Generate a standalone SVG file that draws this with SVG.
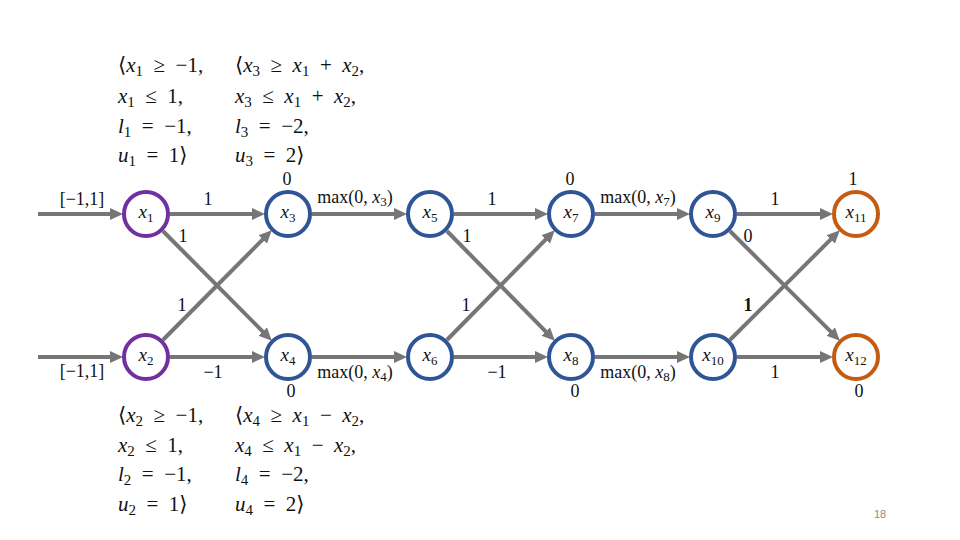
<svg xmlns="http://www.w3.org/2000/svg" width="960" height="540" viewBox="0 0 960 540">
<style>
.m{font-family:"Liberation Serif","DejaVu Serif",serif;font-size:21px;fill:#111;white-space:pre}
.i{font-style:italic}
.s{font-size:15px}
.lb{font-family:"Liberation Serif","DejaVu Serif",serif;font-size:18px;fill:#111;text-anchor:middle}
.s2{font-size:13px}
.nl{font-family:"Liberation Serif","DejaVu Serif",serif;font-size:19px;font-style:italic;fill:#111;text-anchor:middle}
.ns{font-size:13px;font-style:normal}
.node{fill:#fff;stroke-width:4}
.in{stroke:#7030A0}
.hid{stroke:#2F5597}
.out{stroke:#C55A11}
.e{stroke:#767676;stroke-width:4;fill:none;marker-end:url(#ah)}
.pg{font-family:"Liberation Sans",Arial,sans-serif;font-size:11px;fill:#8c8c8c;text-anchor:middle}
</style>
<defs>
<marker id="ah" markerUnits="userSpaceOnUse" markerWidth="14" markerHeight="14" refX="4" refY="7" orient="auto" viewBox="0 0 14 14">
<path d="M0,1 L13,7 L0,13 z" fill="#767676"/>
</marker>
</defs>
<rect width="960" height="540" fill="#fff"/>

<g id="connectors">
<line class="e" x1="38" y1="214" x2="114" y2="214"/>
<line class="e" x1="38" y1="357" x2="114" y2="357"/>
<line class="e" x1="170" y1="214" x2="256" y2="214"/>
<line class="e" x1="170" y1="357" x2="256" y2="357"/>
<line class="e" x1="162.9" y1="231" x2="265.5" y2="334.3"/>
<line class="e" x1="162.9" y1="340" x2="265.5" y2="236.7"/>
<line class="e" x1="312" y1="214" x2="398" y2="214"/>
<line class="e" x1="312" y1="357" x2="398" y2="357"/>
<line class="e" x1="454" y1="214" x2="539" y2="214"/>
<line class="e" x1="454" y1="357" x2="539" y2="357"/>
<line class="e" x1="446.9" y1="231" x2="548.5" y2="334.3"/>
<line class="e" x1="446.9" y1="340" x2="548.5" y2="236.7"/>
<line class="e" x1="595" y1="214" x2="681" y2="214"/>
<line class="e" x1="595" y1="357" x2="681" y2="357"/>
<line class="e" x1="737" y1="214" x2="824" y2="214"/>
<line class="e" x1="737" y1="357" x2="824" y2="357"/>
<line class="e" x1="729.9" y1="231" x2="833.5" y2="334.3"/>
<line class="e" x1="729.9" y1="340" x2="833.5" y2="236.7"/>
</g>

<g id="edge-labels">
<text class="lb" x="82" y="205">[−1,1]</text>
<text class="lb" x="82" y="377">[−1,1]</text>
<text class="lb" x="208" y="205">1</text>
<text class="lb" x="183" y="242">1</text>
<text class="lb" x="182" y="311">1</text>
<text class="lb" x="213" y="378">−1</text>
<text class="lb" x="287" y="185">0</text>
<text class="lb" x="291" y="397">0</text>
<text class="lb" x="355" y="203">max(0, <tspan class="i">x</tspan><tspan class="s2" dy="3">3</tspan><tspan dy="-3">)</tspan></text>
<text class="lb" x="355" y="378">max(0, <tspan class="i">x</tspan><tspan class="s2" dy="3">4</tspan><tspan dy="-3">)</tspan></text>
<text class="lb" x="492" y="205">1</text>
<text class="lb" x="467" y="242">1</text>
<text class="lb" x="466" y="311">1</text>
<text class="lb" x="497" y="378">−1</text>
<text class="lb" x="570" y="185">0</text>
<text class="lb" x="575" y="397">0</text>
<text class="lb" x="638" y="203">max(0, <tspan class="i">x</tspan><tspan class="s2" dy="3">7</tspan><tspan dy="-3">)</tspan></text>
<text class="lb" x="638" y="378">max(0, <tspan class="i">x</tspan><tspan class="s2" dy="3">8</tspan><tspan dy="-3">)</tspan></text>
<text class="lb" x="775" y="205">1</text>
<text class="lb" x="748" y="242">0</text>
<text class="lb" x="748" y="311" font-weight="bold">1</text>
<text class="lb" x="775" y="378">1</text>
<text class="lb" x="853" y="185">1</text>
<text class="lb" x="859" y="397">0</text>
</g>

<g id="node-x1"><circle class="node in" cx="146" cy="214" r="22"/><text class="nl" x="146" y="218">x<tspan class="ns" dy="4">1</tspan></text></g>
<g id="node-x2"><circle class="node in" cx="146" cy="357" r="22"/><text class="nl" x="146" y="361">x<tspan class="ns" dy="4">2</tspan></text></g>
<g id="node-x3"><circle class="node hid" cx="288" cy="214" r="22"/><text class="nl" x="288" y="218">x<tspan class="ns" dy="4">3</tspan></text></g>
<g id="node-x4"><circle class="node hid" cx="288" cy="357" r="22"/><text class="nl" x="288" y="361">x<tspan class="ns" dy="4">4</tspan></text></g>
<g id="node-x5"><circle class="node hid" cx="430" cy="214" r="22"/><text class="nl" x="430" y="218">x<tspan class="ns" dy="4">5</tspan></text></g>
<g id="node-x6"><circle class="node hid" cx="430" cy="357" r="22"/><text class="nl" x="430" y="361">x<tspan class="ns" dy="4">6</tspan></text></g>
<g id="node-x7"><circle class="node hid" cx="571" cy="214" r="22"/><text class="nl" x="571" y="218">x<tspan class="ns" dy="4">7</tspan></text></g>
<g id="node-x8"><circle class="node hid" cx="571" cy="357" r="22"/><text class="nl" x="571" y="361">x<tspan class="ns" dy="4">8</tspan></text></g>
<g id="node-x9"><circle class="node hid" cx="713" cy="214" r="22"/><text class="nl" x="713" y="218">x<tspan class="ns" dy="4">9</tspan></text></g>
<g id="node-x10"><circle class="node hid" cx="713" cy="357" r="22"/><text class="nl" x="713" y="361">x<tspan class="ns" dy="4">10</tspan></text></g>
<g id="node-x11"><circle class="node out" cx="856" cy="214" r="22"/><text class="nl" x="856" y="218">x<tspan class="ns" dy="4">11</tspan></text></g>
<g id="node-x12"><circle class="node out" cx="856" cy="357" r="22"/><text class="nl" x="856" y="361">x<tspan class="ns" dy="4">12</tspan></text></g>

<g id="constraints-top">
<text class="m" x="118" y="72">⟨<tspan class="i">x</tspan><tspan class="s" dy="4">1</tspan><tspan dy="-4">  ≥  −1,</tspan></text>
<text class="m" x="118" y="103"><tspan class="i">x</tspan><tspan class="s" dy="4">1</tspan><tspan dy="-4">  ≤  1,</tspan></text>
<text class="m" x="118" y="133"><tspan class="i">l</tspan><tspan class="s" dy="4">1</tspan><tspan dy="-4">  =  −1,</tspan></text>
<text class="m" x="118" y="162"><tspan class="i">u</tspan><tspan class="s" dy="4">1</tspan><tspan dy="-4">  =  1⟩</tspan></text>
<text class="m" x="235" y="72">⟨<tspan class="i">x</tspan><tspan class="s" dy="4">3</tspan><tspan dy="-4">  ≥  </tspan><tspan class="i">x</tspan><tspan class="s" dy="4">1</tspan><tspan dy="-4">  +  </tspan><tspan class="i">x</tspan><tspan class="s" dy="4">2</tspan><tspan dy="-4">,</tspan></text>
<text class="m" x="235" y="103"><tspan class="i">x</tspan><tspan class="s" dy="4">3</tspan><tspan dy="-4">  ≤  </tspan><tspan class="i">x</tspan><tspan class="s" dy="4">1</tspan><tspan dy="-4">  +  </tspan><tspan class="i">x</tspan><tspan class="s" dy="4">2</tspan><tspan dy="-4">,</tspan></text>
<text class="m" x="235" y="133"><tspan class="i">l</tspan><tspan class="s" dy="4">3</tspan><tspan dy="-4">  =  −2,</tspan></text>
<text class="m" x="235" y="162"><tspan class="i">u</tspan><tspan class="s" dy="4">3</tspan><tspan dy="-4">  =  2⟩</tspan></text>
</g>

<g id="constraints-bottom">
<text class="m" x="118" y="422">⟨<tspan class="i">x</tspan><tspan class="s" dy="4">2</tspan><tspan dy="-4">  ≥  −1,</tspan></text>
<text class="m" x="118" y="452"><tspan class="i">x</tspan><tspan class="s" dy="4">2</tspan><tspan dy="-4">  ≤  1,</tspan></text>
<text class="m" x="118" y="481"><tspan class="i">l</tspan><tspan class="s" dy="4">2</tspan><tspan dy="-4">  =  −1,</tspan></text>
<text class="m" x="118" y="511"><tspan class="i">u</tspan><tspan class="s" dy="4">2</tspan><tspan dy="-4">  =  1⟩</tspan></text>
<text class="m" x="235" y="422">⟨<tspan class="i">x</tspan><tspan class="s" dy="4">4</tspan><tspan dy="-4">  ≥  </tspan><tspan class="i">x</tspan><tspan class="s" dy="4">1</tspan><tspan dy="-4">  −  </tspan><tspan class="i">x</tspan><tspan class="s" dy="4">2</tspan><tspan dy="-4">,</tspan></text>
<text class="m" x="235" y="452"><tspan class="i">x</tspan><tspan class="s" dy="4">4</tspan><tspan dy="-4">  ≤  </tspan><tspan class="i">x</tspan><tspan class="s" dy="4">1</tspan><tspan dy="-4">  −  </tspan><tspan class="i">x</tspan><tspan class="s" dy="4">2</tspan><tspan dy="-4">,</tspan></text>
<text class="m" x="235" y="481"><tspan class="i">l</tspan><tspan class="s" dy="4">4</tspan><tspan dy="-4">  =  −2,</tspan></text>
<text class="m" x="235" y="511"><tspan class="i">u</tspan><tspan class="s" dy="4">4</tspan><tspan dy="-4">  =  2⟩</tspan></text>
</g>

<text class="pg" x="880" y="518">18</text>
</svg>
